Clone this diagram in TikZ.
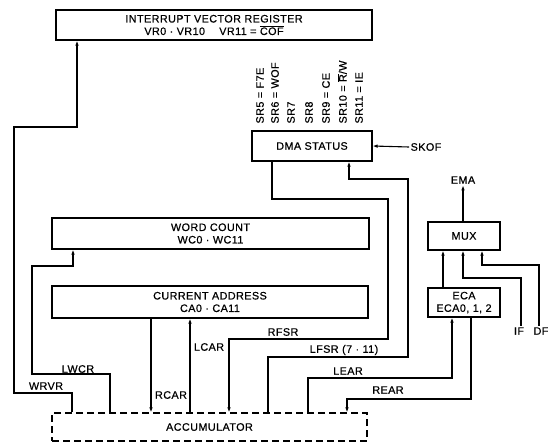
\documentclass[tikz,border=0pt]{standalone}
\usepackage{fontspec}
\setmainfont{Liberation Sans}
\usetikzlibrary{arrows.meta}

\begin{document}
\begin{tikzpicture}[x=1pt, y=-1pt, line width=1.1pt,
        every node/.style={font=\fontsize{10.8}{12.5}\selectfont\addfontfeatures{LetterSpace=4,FakeBold=0.6}},
        box/.style={draw, rectangle, inner sep=0pt, align=center},
        sig/.style={-{Latex[length=5pt,width=3.5pt]}},
        lbl/.style={inner sep=1pt}]
        \useasboundingbox (0,0) rectangle (548,445);

        % Boxes
        \node[box, minimum width=316, minimum height=30] (ivr) at (214,25)
            {INTERRUPT VECTOR REGISTER\\VR0 · VR10\quad\ VR11 = $\overline{\mbox{COF}}$};
        \node[box, minimum width=120, minimum height=30] (dma) at (312,146) {DMA STATUS};
        \node[box, minimum width=317, minimum height=31] (wc) at (210.5,233.5) {WORD COUNT\\WC0 · WC11};
        \node[box, minimum width=316, minimum height=32] (ca) at (210,302) {CURRENT ADDRESS\\CA0 · CA11};
        \node[box, minimum width=72, minimum height=28] (mux) at (464,236) {MUX};
        \node[box, minimum width=72, minimum height=29] (eca) at (464,302.5) {ECA\\ECA0, 1, 2};
        \node[box, dash pattern=on 7pt off 4pt, minimum width=315, minimum height=28] (acc) at (209.5,427) {ACCUMULATOR};

        % Status bits
        \foreach \xx/\txt in {260/{SR5 = F7E}, 275/{SR6 = WOF}, 291/SR7, 309/SR8,
                326/{SR9 = CE}, 342/{SR10 = $\overline{\mbox{R}}$/W}, 359/{SR11 = IE}}
            \node[lbl, rotate=90, anchor=west] at (\xx,125) {\txt};

        % Outside signals
        \node[lbl] (skof) at (426,147) {SKOF};
        \node[lbl] (ema) at (463,180) {EMA};
        \node[lbl] (if) at (519,331) {IF};
        \node[lbl] (df) at (541,331) {DF};

        % Drawing
        \draw[sig] (acc.north -| 72,0) |- (14,393) |- (77,127) -- (ivr.south -| 77,0);
        \node[lbl] at (46,386) {WRVR};
        \draw[sig] (acc.north -| 110,0) |- (32,374) |- (73,266) -- (wc.south -| 73,0);
        \node[lbl] at (78,369) {LWCR};
        \draw[sig] (ca.south -| 151,0) -- (acc.north -| 151,0);
        \node[lbl] at (171,395) {RCAR};
        \draw[sig] (acc.north -| 190,0) -- (ca.south -| 190,0);
        \node[lbl] at (209,347) {LCAR};
        \draw[sig] (dma.south -| 272,0) |- (388,199) |- (229,339) -- (acc.north -| 229,0);
        \node[lbl] at (283,332) {RFSR};
        \draw[sig] (acc.north -| 268,0) |- (408,357) |- (349,179) -- (dma.south -| 349,0);
        \node[lbl] at (344,350) {LFSR (7 · 11)};
        \draw[sig] (acc.north -| 308,0) |- (452,378) -- (eca.south -| 452,0);
        \node[lbl] at (348,371) {LEAR};
        \draw[sig] (eca.south -| 471,0) |- (347,399) -- (acc.north -| 347,0);
        \node[lbl] at (388,390) {REAR};
        \draw[sig] (eca.north -| 443,0) -- (mux.south -| 443,0);
        \draw[sig] (if.north -| 521,0) |- (463,278) -- (mux.south -| 463,0);
        \draw[sig] (df.north -| 539,0) |- (482,265) -- (mux.south -| 482,0);
        \draw[sig] (mux.north -| 463,0) -- (ema.south);
        \draw[sig] (skof.west) -- (dma.east);
    \end{tikzpicture}
\end{document}
